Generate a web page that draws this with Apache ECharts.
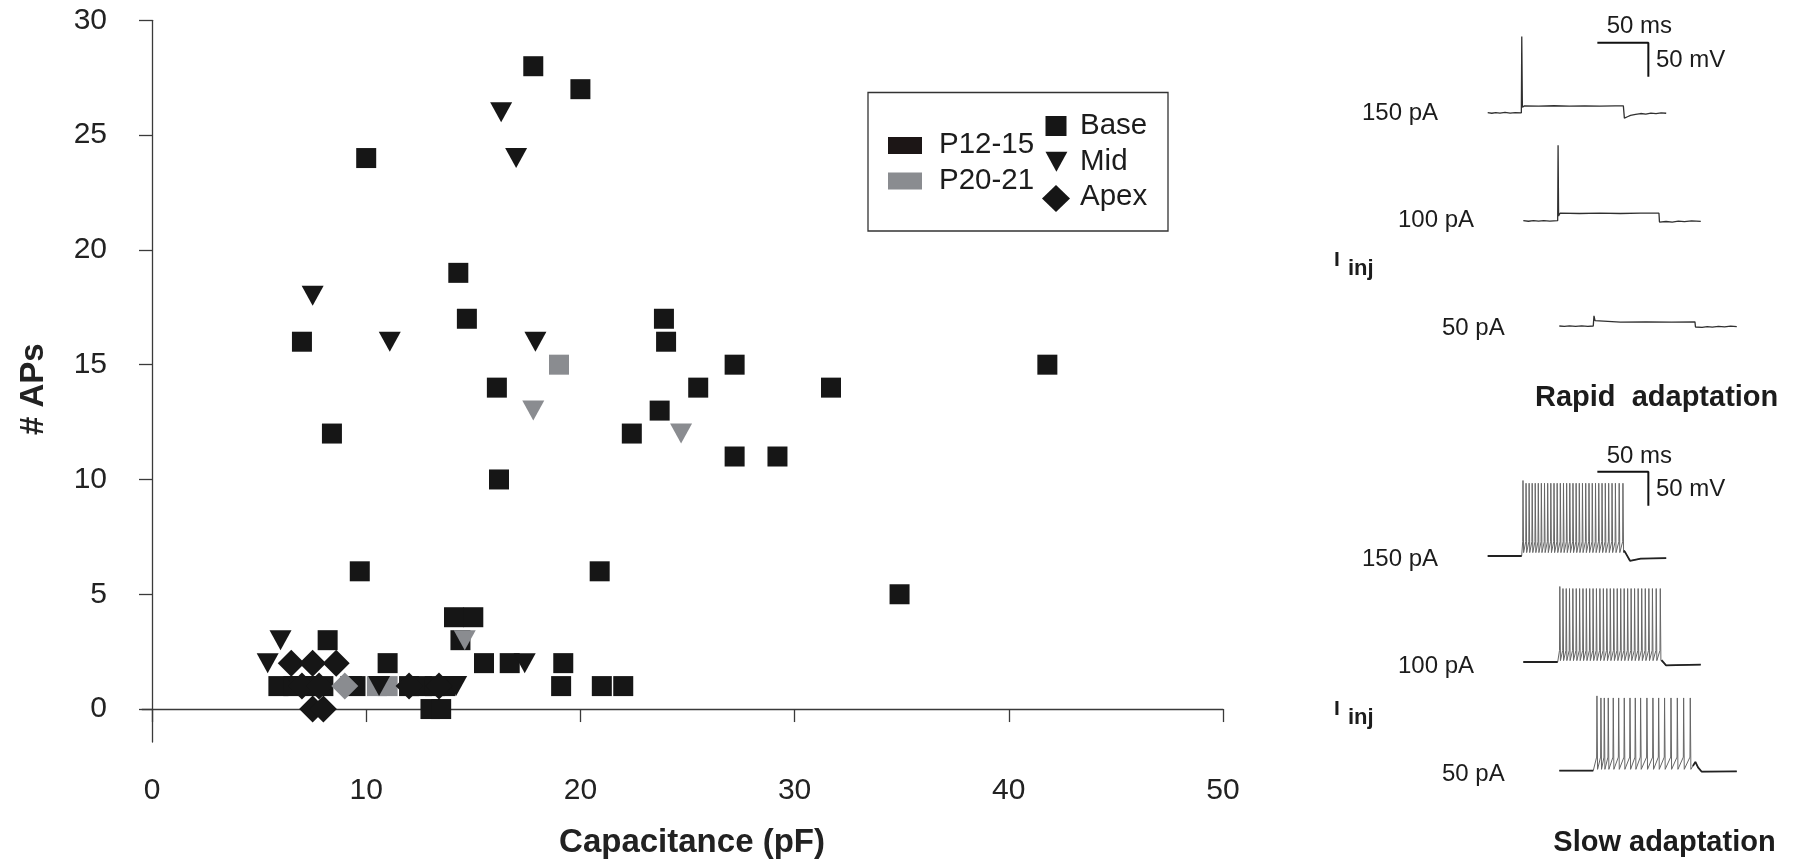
<!DOCTYPE html>
<html><head><meta charset="utf-8">
<script src="https://cdn.jsdelivr.net/npm/echarts@6/dist/echarts.min.js"></script>
<style>html,body{margin:0;padding:0;background:#fff}#c{width:1802px;height:864px}</style>
</head><body><div id="c"></div>
<script>
// ---------- scatter data: [capacitance pF, # APs] ----------
const xTicks = [0, 10, 20, 30, 40, 50];
const yTicks = [0, 5, 10, 15, 20, 25, 30];

const baseP12 = [[17.8,28],[20.0,27],[10.0,24],[14.3,19],[14.7,17],[23.9,17],[7.0,16],[24.0,16],
  [27.2,15],[41.8,15],[16.1,14],[25.5,14],[31.7,14],[23.7,13],[8.4,12],[22.4,12],[27.2,11],[29.2,11],
  [16.2,10],[9.7,6],[20.9,6],[34.9,5],[14.1,4],[15.0,4],[8.2,3],[14.4,3],[11.0,2],[15.5,2],[16.7,2],
  [19.2,2],[5.9,1],[6.6,1],[7.3,1],[8.0,1],[9.5,1],[12.0,1],[12.6,1],[13.2,1],[13.7,1],[19.1,1],
  [21.0,1],[22.0,1],[13.0,0],[13.5,0]];
const baseP20 = [[19.0,15],[10.5,1],[11.0,1]];
const midP12 = [[16.3,26],[17.0,24],[7.5,18],[11.1,16],[17.9,16],[6.0,3],[5.4,2],[17.4,2],
  [6.8,1],[7.3,1],[9.3,1],[10.6,1],[13.9,1],[14.2,1]];
const midP20 = [[17.8,13],[24.7,12],[14.6,3]];
const apexP12 = [[6.5,2],[7.5,2],[8.6,2],[7.5,0],[8.0,0],[7.0,1],[7.8,1],[12.0,1],[13.4,1]];
const apexP20 = [[9.0,1]];

// ---------- example recordings: [time ms, membrane potential mV] ----------
const rapid150 = [[0,-65],[4,-65.8],[8,-64.8],[12,-65.6],[17,-64.6],[22,-65.7],[27,-64.9],[33,-65.2],
  [33.4,47],[34,-57],[36,-55],[50,-55.4],[65,-54.8],[80,-55.3],[95,-54.9],[110,-55.4],[125,-55],[133,-55],
  [134,-73],[137,-71],[140,-69],[145,-67.5],[150,-66.2],[155,-67],[160,-65.5],[165,-66.3],[170,-65.2],[175,-65.8]];
const rapid100 = [[0,-65],[5,-65.8],[10,-64.9],[15,-65.7],[20,-64.8],[26,-65.6],[33.7,-65],[33.9,-67],
  [34.1,46],[34.6,-58],[36,-54],[55,-54.4],[75,-53.9],[95,-54.4],[115,-54],[133,-54],
  [133.5,-67],[135,-68],[140,-66.2],[146,-67],[152,-65.6],[158,-66.4],[165,-65.4],[174,-66]];
const rapid50 = [[0,-65],[5,-65.7],[10,-64.8],[16,-65.6],[22,-64.9],[28,-65.5],[33.3,-65],[34,-50],
  [35,-57],[36,-59],[60,-59.3],[85,-58.8],[110,-59.3],[133,-59],[133.5,-66.5],[140,-67],
  [145,-65.8],[150,-66.6],[156,-65.4],[162,-66.4],[168,-65.3],[174,-66]];

const slow150Pre = [[0,-65],[33.3,-65]];
const slow150Spikes = [34.3,37.3,40.3,43.3,46.3,49.3,52.3,55.4,58.5,61.6,64.7,67.8,70.9,74.0,77.1,80.2,
  83.3,86.4,89.5,92.6,95.8,99.0,102.2,105.4,108.6,111.8,115.0,118.3,121.6,124.9,128.6,132.3];
const slow150Levels = {thr:-44, peak:42, first:46, trough:-60};
const slow150Post = [[133.5,-57],[135,-60],[139.5,-72],[150,-69],[175,-68]];

const slow100Pre = [[0,-65],[33.7,-65]];
const slow100Spikes = [35.5,38.6,41.8,45.0,48.3,51.6,54.9,58.2,61.5,64.8,68.1,71.4,74.8,78.2,81.6,85.0,
  88.4,91.8,95.2,98.6,102.0,105.4,108.8,112.3,115.8,119.3,122.8,126.3,130.0,134.0];
const slow100Levels = {thr:-48, peak:43, first:46, trough:-63};
const slow100Post = [[135.5,-62],[140,-70],[150,-69.5],[174,-69]];

const slow50Pre = [[0,-65],[33.3,-65]];
const slow50Spikes = [36.6,40.5,43.8,47.7,52.6,57.9,63.4,69.0,74.2,79.4,85.6,91.5,97.1,102.9,109.2,115.4,121.6,128.1];
const slow50Levels = {thr:-45, peak:42, first:45, trough:-63};
const slow50Post = [[131,-58],[133.4,-52],[136,-60],[139.6,-66.5],[174,-66]];

// scale bars (50 ms / 50 mV) in the coordinates of the 150 pA traces
const barRapid = [[107.5,38],[157.5,38],[157.5,-12]];
const barSlow = [[107.5,59],[157.5,59],[157.5,9]];

function buildSpiking(pre, spikes, lv, post) {
  const pts = pre.slice();
  spikes.forEach((t, i) => {
    pts.push([t, lv.thr]);
    pts.push([t + 0.3, i === 0 ? lv.first : lv.peak]);
    pts.push([t + 0.9, lv.trough]);
  });
  return pts.concat(post);
}

const FONT = '"Liberation Sans", Arial, Helvetica, sans-serif';
const INK = '#1c1c1c';
const BLACK = '#161616';
const GRAY = '#8a8c90';

const chart = echarts.init(document.getElementById('c'), null, {renderer: 'canvas'});

// trace grids: 1.02 px per ms, 0.68 px per mV, y range [-80, 70]
const traceGrids = [
  {left: 1487.7, top: 20.9}, {left: 1523.3, top: 128.9}, {left: 1559.3, top: 234.2},
  {left: 1487.7, top: 464.2}, {left: 1523.3, top: 570.2}, {left: 1559.3, top: 678.9}
];
const grids = [{left: 142, top: 20.3, width: 1081, height: 722.7}];
traceGrids.forEach(g => grids.push({left: g.left, top: g.top, width: 178.5, height: 102}));

const xAxes = [{
  type: 'value', gridIndex: 0, min: -0.467, max: 50,
  axisLine: {show: true, lineStyle: {color: '#3a3a3a', width: 1.3}},
  axisTick: {show: true, customValues: xTicks, length: 13, lineStyle: {color: '#3a3a3a', width: 1.3}},
  axisLabel: {customValues: xTicks, margin: 34, fontSize: 30, color: '#222', fontFamily: FONT},
  splitLine: {show: false},
  name: 'Capacitance (pF)', nameLocation: 'middle', nameGap: 84,
  nameTextStyle: {fontSize: 33, fontWeight: 'bold', color: '#222', fontFamily: FONT, padding: [0, 0, 0, 19]}
}];
const yAxes = [{
  type: 'value', gridIndex: 0, min: -1.435, max: 30,
  axisLine: {show: true, lineStyle: {color: '#3a3a3a', width: 1.3}},
  axisTick: {show: true, customValues: yTicks, length: 13, lineStyle: {color: '#3a3a3a', width: 1.3}},
  axisLabel: {customValues: yTicks, margin: 35, fontSize: 30, color: '#222', fontFamily: FONT},
  splitLine: {show: false},
  name: '# APs', nameLocation: 'middle', nameGap: 92, nameRotate: 90,
  nameTextStyle: {fontSize: 33, fontWeight: 'bold', color: '#222', fontFamily: FONT, padding: [0, 16, 0, 0]}
}];
for (let i = 1; i <= 6; i++) {
  xAxes.push({type: 'value', gridIndex: i, min: 0, max: 175, show: false});
  yAxes.push({type: 'value', gridIndex: i, min: -80, max: 70, show: false});
}

function scatter(name, data, symbol, size, color, rotate) {
  return {type: 'scatter', name, data, symbol, symbolSize: size, symbolRotate: rotate || 0,
    itemStyle: {color, opacity: 1}, xAxisIndex: 0, yAxisIndex: 0, silent: true};
}
function trace(data, idx, color, width) {
  return {type: 'line', data, xAxisIndex: idx, yAxisIndex: idx, showSymbol: false, symbol: 'none',
    lineStyle: {color, width}, clip: false, silent: true};
}

const series = [
  scatter('Base P12-15', baseP12, 'rect', [20, 20], BLACK),
  scatter('Base P20-21', baseP20, 'rect', [20, 20], GRAY),
  scatter('Mid P12-15', midP12, 'triangle', [22, 20], BLACK, 180),
  scatter('Mid P20-21', midP20, 'triangle', [22, 20], GRAY, 180),
  scatter('Apex P12-15', apexP12, 'diamond', [27, 27], BLACK),
  scatter('Apex P20-21', apexP20, 'diamond', [27, 27], GRAY),
  trace(rapid150, 1, '#303030', 1.3),
  trace(rapid100, 2, '#303030', 1.3),
  trace(rapid50, 3, '#303030', 1.3),
  trace(buildSpiking(slow150Pre, slow150Spikes, slow150Levels, slow150Post), 4, '#666', 1),
  trace(buildSpiking(slow100Pre, slow100Spikes, slow100Levels, slow100Post), 5, '#666', 1),
  trace(buildSpiking(slow50Pre, slow50Spikes, slow50Levels, slow50Post), 6, '#666', 1),
  trace(slow150Pre, 4, '#222', 1.8), trace(slow150Post, 4, '#222', 1.8),
  trace(slow100Pre, 5, '#222', 1.8), trace(slow100Post, 5, '#222', 1.8),
  trace(slow50Pre, 6, '#222', 1.8), trace(slow50Post, 6, '#222', 1.8),
  trace(barRapid, 1, '#111', 2),
  trace(barSlow, 4, '#111', 2)
];

function txt(text, x, y, size, bold) {
  return {type: 'text', x, y, silent: true, z: 10,
    style: {text, font: (bold ? 'bold ' : '') + size + 'px ' + FONT, fill: INK, align: 'left', verticalAlign: 'middle'}};
}

const graphic = [
  // legend box
  {type: 'rect', shape: {x: 868, y: 92.5, width: 300, height: 138.5}, z: 5,
    style: {fill: '#fff', stroke: '#333', lineWidth: 1.3}, silent: true},
  {type: 'rect', shape: {x: 888, y: 137, width: 34, height: 17}, z: 6, style: {fill: '#1c1616'}, silent: true},
  {type: 'rect', shape: {x: 888, y: 172.5, width: 34, height: 17}, z: 6, style: {fill: GRAY}, silent: true},
  txt('P12-15', 939, 145, 29.5), txt('P20-21', 939, 180.7, 29.5),
  {type: 'rect', shape: {x: 1045.5, y: 116, width: 21, height: 20}, z: 6, style: {fill: BLACK}, silent: true},
  {type: 'polygon', shape: {points: [[1045.5, 151.7], [1067.4, 151.7], [1056.4, 171.7]]}, z: 6, style: {fill: BLACK}, silent: true},
  {type: 'polygon', shape: {points: [[1056, 185], [1070, 198.5], [1056, 212], [1042, 198.5]]}, z: 6, style: {fill: BLACK}, silent: true},
  txt('Base', 1080, 126, 29.5), txt('Mid', 1080, 162, 29.5), txt('Apex', 1080, 197.3, 29.5),
  // rapid adaptation panel
  txt('50 ms', 1606.7, 26.7, 24), txt('50 mV', 1656, 60.7, 24),
  txt('150 pA', 1362, 113.3, 24), txt('100 pA', 1398, 220, 24), txt('50 pA', 1442, 328.3, 24),
  txt('I', 1334, 260, 21, true), txt('inj', 1348, 269, 22, true),
  txt('Rapid  adaptation', 1535, 398.3, 29, true),
  // slow adaptation panel
  txt('50 ms', 1606.7, 456, 24), txt('50 mV', 1656, 489.3, 24),
  txt('150 pA', 1362, 559.3, 24), txt('100 pA', 1398, 666, 24), txt('50 pA', 1442, 774, 24),
  txt('I', 1334, 709, 21, true), txt('inj', 1348, 718, 22, true),
  txt('Slow adaptation', 1553.3, 843.3, 29, true)
];

chart.setOption({
  backgroundColor: '#fff',
  animation: false,
  textStyle: {fontFamily: FONT},
  grid: grids,
  xAxis: xAxes,
  yAxis: yAxes,
  series,
  graphic
});
</script></body></html>
